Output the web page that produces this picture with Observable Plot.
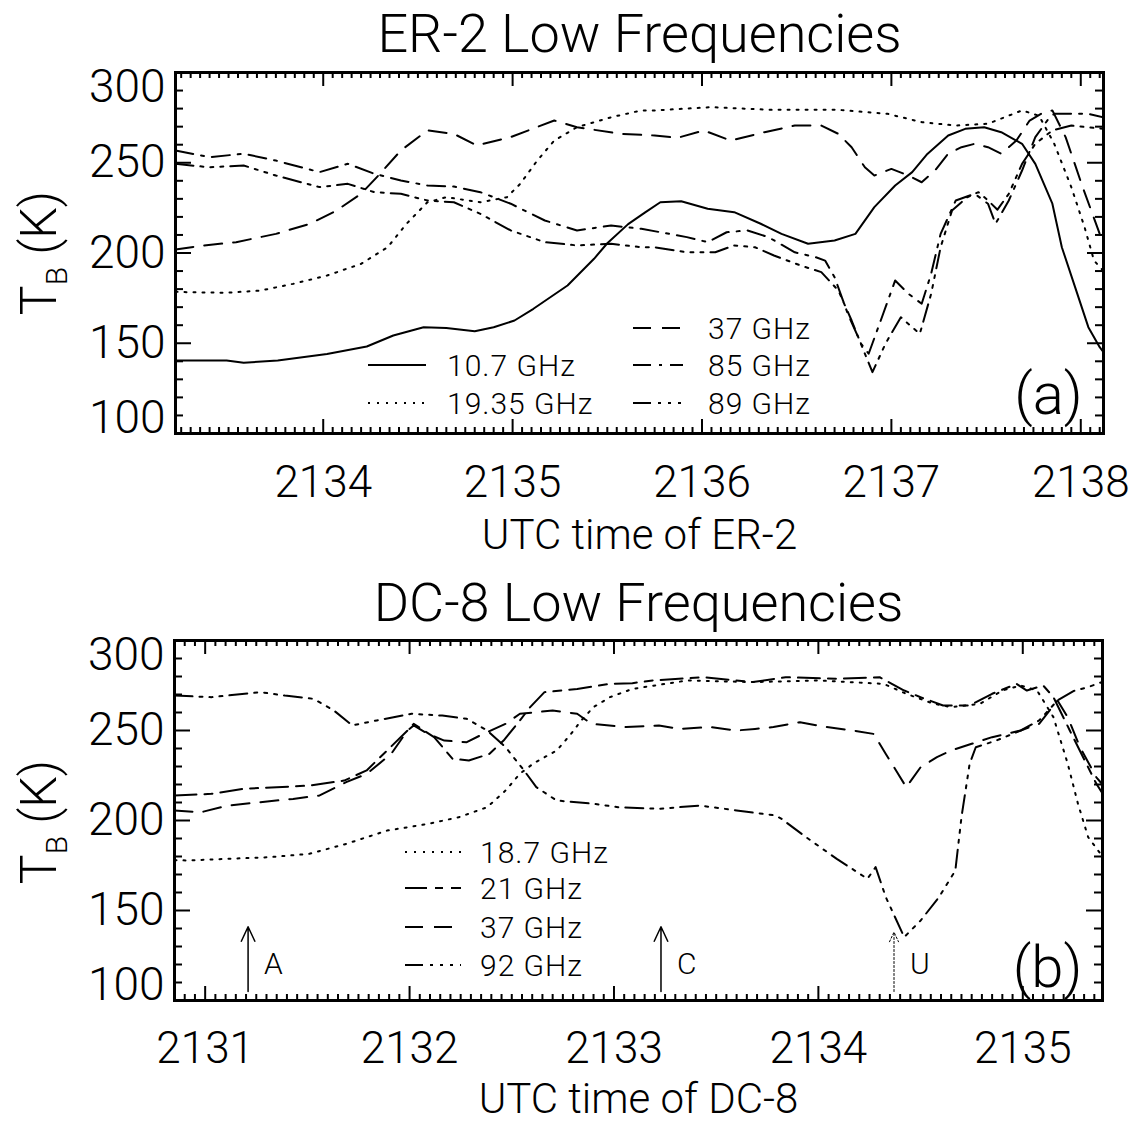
<!DOCTYPE html>
<html><head><meta charset="utf-8">
<script src="https://cdn.jsdelivr.net/npm/d3@7"></script>
<script src="https://cdn.jsdelivr.net/npm/@observablehq/plot@0.6"></script>
<style>
body{margin:0;background:#fff;}
#chart svg{display:block;}
</style></head><body><div id="chart"></div>
<script>
// ---------- DATA ----------
// Panel (a): ER-2, [UTC time, TB (K)]
const er2_10_7 = [[2133.22,140.4],[2133.49,140.4],[2133.58,139.2],[2133.76,140.4],[2134.02,144.1],[2134.23,148.2],[2134.37,154.3],[2134.53,158.9],[2134.65,158.5],[2134.80,156.7],[2134.90,158.9],[2135.01,162.6],[2135.11,169.1],[2135.29,182.0],[2135.43,196.8],[2135.50,205.4],[2135.61,216],[2135.70,222.5],[2135.78,228.1],[2135.89,228.7],[2136.03,224.5],[2136.17,222.6],[2136.31,216.2],[2136.42,210.6],[2136.56,205.1],[2136.70,206.9],[2136.81,210.6],[2136.91,225.4],[2137.02,237.4],[2137.11,244.8],[2137.19,254.9],[2137.30,265.1],[2137.39,268.8],[2137.49,269.7],[2137.58,266.9],[2137.69,260.5],[2137.76,249.4],[2137.85,227.3],[2137.90,203.2],[2137.97,181.1],[2138.04,158.9],[2138.10,147.8],[2138.12,145]];
const er2_19_35 = [[2133.22,178.5],[2133.28,178.3],[2133.49,178],[2133.67,179.2],[2133.84,182.9],[2134.02,187.5],[2134.20,194],[2134.34,203.2],[2134.44,216.2],[2134.55,228.1],[2134.65,230.9],[2134.83,228.1],[2134.97,230.9],[2135.04,238.3],[2135.13,251.2],[2135.22,262.3],[2135.34,269.7],[2135.52,275.2],[2135.68,279],[2135.75,279],[2136.05,280.8],[2136.37,279.3],[2136.72,279.3],[2136.98,277.1],[2137.16,272.5],[2137.34,270.6],[2137.51,271.6],[2137.69,279],[2137.78,276],[2137.86,260.5],[2137.95,236.5],[2138.02,214.3],[2138.07,195.8],[2138.12,190]];
const er2_37 = [[2133.22,202],[2133.37,204.2],[2133.54,206],[2133.75,210.6],[2133.93,216.2],[2134.07,223.5],[2134.20,232.8],[2134.30,243.9],[2134.41,256.8],[2134.55,267.9],[2134.69,266],[2134.81,259.6],[2134.99,264.2],[2135.22,273.4],[2135.34,269.7],[2135.57,266],[2135.75,265.1],[2135.87,263.8],[2136.01,267.9],[2136.15,262.3],[2136.33,266.9],[2136.49,270.6],[2136.63,270.6],[2136.72,266],[2136.79,258.6],[2136.86,247.5],[2136.91,242.9],[2137.0,246.6],[2137.09,242.9],[2137.16,239.2],[2137.23,245.7],[2137.30,255],[2137.37,258.6],[2137.44,260.5],[2137.51,258.6],[2137.58,255],[2137.66,262.3],[2137.73,273.4],[2137.79,277.1],[2137.85,279],[2137.92,264.2],[2138.01,236.5],[2138.10,210.6],[2138.12,206]];
const er2_85 = [[2133.22,256.8],[2133.40,253.1],[2133.58,255],[2133.75,251.2],[2133.98,244.8],[2134.13,249.4],[2134.27,243.9],[2134.41,240.2],[2134.55,237.4],[2134.69,236.8],[2134.83,233.7],[2134.99,227.3],[2135.17,218],[2135.34,212.5],[2135.52,215.2],[2135.68,213.4],[2135.78,211.5],[2135.92,208.8],[2136.03,206],[2136.13,211.5],[2136.24,212.5],[2136.35,208.8],[2136.49,200.4],[2136.60,197.7],[2136.65,195.8],[2136.70,186.6],[2136.77,166.3],[2136.84,149.7],[2136.88,144.2],[2136.95,164.4],[2137.02,184.8],[2137.09,177.4],[2137.16,171.9],[2137.21,188.5],[2137.26,210.6],[2137.34,229.1],[2137.44,232.8],[2137.51,227.3],[2137.55,216.2],[2137.62,229.1],[2137.69,245.7],[2137.76,264.2],[2137.83,274.4],[2137.86,277.1],[2138.04,277.1],[2138.12,275.2]];
const er2_89 = [[2133.22,249.4],[2133.40,247.5],[2133.58,248.5],[2133.75,242.9],[2133.98,236.5],[2134.13,238.3],[2134.27,233.7],[2134.41,232.8],[2134.55,229.1],[2134.69,228.1],[2134.83,221.7],[2134.99,212.5],[2135.17,206],[2135.34,204.2],[2135.52,205.1],[2135.68,203.2],[2135.75,203.2],[2135.92,200.4],[2136.07,200.4],[2136.17,204.2],[2136.28,203.2],[2136.38,198.6],[2136.52,193.1],[2136.63,189.4],[2136.72,179.2],[2136.79,162.6],[2136.86,144.2],[2136.90,134],[2136.97,150],[2137.05,164.4],[2137.15,155.2],[2137.21,177.4],[2137.26,203.2],[2137.32,223.5],[2137.40,230.9],[2137.46,233.7],[2137.51,229.1],[2137.56,224],[2137.62,232.8],[2137.69,249.4],[2137.76,260.5],[2137.85,267.9],[2137.95,270.6],[2138.12,268.8]];

// Panel (b): DC-8, [UTC time, TB (K)]
const dc8_18_7 = [[2130.85,178],[2130.91,177.8],[2131.11,178.7],[2131.31,179.6],[2131.51,181.5],[2131.69,187],[2131.89,194.4],[2132.09,198.1],[2132.24,201.8],[2132.38,207.4],[2132.47,216.7],[2132.54,226],[2132.61,232],[2132.72,238.9],[2132.79,248.1],[2132.84,255.6],[2132.90,263],[2132.98,268.5],[2133.09,273.1],[2133.36,277.8],[2133.68,276.9],[2134.00,277.8],[2134.32,275.9],[2134.43,270.4],[2134.56,265],[2134.65,263],[2134.79,264.8],[2134.90,272.2],[2134.99,275],[2135.07,272.2],[2135.15,257.4],[2135.22,231.5],[2135.27,209.3],[2135.32,190.7],[2135.39,180]];
const dc8_21 = [[2130.85,213.9],[2131.03,214.8],[2131.19,217.6],[2131.35,218.5],[2131.51,219.4],[2131.68,222.2],[2131.79,227.8],[2131.89,238.9],[2131.99,250],[2132.02,253.7],[2132.12,246.3],[2132.21,234.3],[2132.29,233.3],[2132.39,237],[2132.46,244.4],[2132.54,255.6],[2132.59,263],[2132.66,271.3],[2132.82,273.1],[2132.98,275.9],[2133.09,276.3],[2133.19,277.8],[2133.44,279.6],[2133.68,276.9],[2133.84,279.6],[2134.09,278.7],[2134.30,279.6],[2134.42,272.2],[2134.50,268.5],[2134.61,263.9],[2134.74,263.9],[2134.85,270.4],[2134.97,275.9],[2135.02,272.2],[2135.10,275],[2135.15,268.5],[2135.23,250],[2135.36,220.4],[2135.39,215]];
const dc8_37 = [[2130.85,205.6],[2130.98,204.6],[2131.11,208.3],[2131.27,210.2],[2131.43,212],[2131.56,213.9],[2131.69,221.3],[2131.79,225.9],[2131.91,237],[2131.99,250],[2132.02,252.8],[2132.09,248.1],[2132.17,244.4],[2132.28,243.5],[2132.36,248.1],[2132.47,253.7],[2132.54,259.3],[2132.70,261.1],[2132.82,259.3],[2132.89,253.7],[2133.06,251.9],[2133.22,252.8],[2133.32,250.9],[2133.47,251.9],[2133.60,250],[2133.69,250.9],[2133.78,251.9],[2133.91,254.6],[2134.04,251.9],[2134.17,250],[2134.27,248.1],[2134.33,237],[2134.38,227.8],[2134.43,218.5],[2134.50,229.6],[2134.58,235.2],[2134.65,238.9],[2134.75,242.6],[2134.85,246.3],[2134.99,250],[2135.08,253.7],[2135.17,266.7],[2135.22,257.4],[2135.28,240.7],[2135.36,224],[2135.39,220]];
const dc8_92 = [[2130.85,269.4],[2131.03,268.5],[2131.27,271.3],[2131.39,269.4],[2131.53,267.6],[2131.63,261.1],[2131.72,252.8],[2131.84,255.6],[2132.01,259.3],[2132.16,258.3],[2132.28,256.5],[2132.38,250],[2132.47,240.7],[2132.56,227.8],[2132.62,218.5],[2132.72,211.1],[2132.90,209.3],[2133.02,207.4],[2133.22,206.5],[2133.42,208.3],[2133.60,205.6],[2133.79,202.8],[2133.82,200.9],[2133.94,190.7],[2134.09,178.7],[2134.24,167.6],[2134.28,174.1],[2134.33,157.4],[2134.42,135.2],[2134.50,144.4],[2134.59,157.4],[2134.67,172.2],[2134.70,201.8],[2134.74,231.5],[2134.77,240.7],[2134.87,244.4],[2134.99,250],[2135.08,255.6],[2135.17,266.7],[2135.25,272],[2135.32,274.1],[2135.39,277]];

// Event arrows in panel (b)
const dc8ArrowTime  = [2131.21, 2133.23, 2134.37];
const dc8ArrowLabel = ["A", "C", "U"];
const dc8ArrowBase  = [105, 105, 105];
const dc8ArrowTip   = [141, 141, 138];

// Axis ticks
const er2XTicks = [2134, 2135, 2136, 2137, 2138];
const dc8XTicks = [2131, 2132, 2133, 2134, 2135];
const yTicks = [100, 150, 200, 250, 300];

// Series names / legends
const er2Names = ["10.7 GHz", "19.35 GHz", "37 GHz", "85 GHz", "89 GHz"];
const dc8Names = ["18.7 GHz", "21 GHz", "37 GHz", "92 GHz"];

// ---------- STYLE ----------
const FONT = "Roboto, 'Liberation Sans', Arial, sans-serif";
const FW = 300;
const DASH = {
  solid: null,
  dot: "2,7",
  dash: "18,11",
  dashdot: "18,8,3,8",
  dash3dot: "18,7,3,7,3,7,3,7",
  longshort: "22,8,8,8"
};

function panel(cfg) {
  const W = 1135;
  const fw = W - cfg.ml - cfg.mr, fh = cfg.h - cfg.mt - cfg.mb;
  const [x0, x1] = cfg.xDomain;
  const minorX = d3.range(Math.ceil(x0 * 20), Math.floor(x1 * 20) + 1).map(k => k / 20).filter(v => Math.abs(v - Math.round(v)) > 1e-6);
  const minorY = d3.range(100, 301, 10).filter(v => v % 50 !== 0);
  const rows = cfg.series.flatMap((s, i) => s.data.map(([t, v]) => ({t, v, s: i})));
  const T = {fontWeight: FW, lineAnchor: "middle"};
  const marks = [
    Plot.frame({stroke: "black", strokeWidth: 3}),
    Plot.tickX(cfg.xTicks, {x: d => d, insetTop: fh - 14, strokeWidth: 2}),
    Plot.tickX(cfg.xTicks, {x: d => d, insetBottom: fh - 14, strokeWidth: 2}),
    Plot.tickX(minorX, {x: d => d, insetTop: fh - 6, strokeWidth: 2}),
    Plot.tickX(minorX, {x: d => d, insetBottom: fh - 6, strokeWidth: 2}),
    Plot.tickY(yTicks, {y: d => d, insetRight: fw - 16, strokeWidth: 2}),
    Plot.tickY(yTicks, {y: d => d, insetLeft: fw - 16, strokeWidth: 2}),
    Plot.tickY(minorY, {y: d => d, insetRight: fw - 8, strokeWidth: 2}),
    Plot.tickY(minorY, {y: d => d, insetLeft: fw - 8, strokeWidth: 2}),
    ...cfg.series.map((s, i) => Plot.line(rows.filter(r => r.s === i), {
      x: "t", y: "v", stroke: "black", strokeWidth: 2, strokeDasharray: s.dash, clip: true, curve: "linear"
    })),
    Plot.text(cfg.xTicks, {...T, x: d => d, text: d => String(d), frameAnchor: "bottom", dy: cfg.tickDy, fontSize: 44}),
    // y tick labels: the end labels sit inside the axis span, as in the original
    Plot.text(yTicks.filter(d => d === 300), {...T, y: d => d, text: d => String(d), frameAnchor: "left", textAnchor: "end", dx: -10, dy: 15, fontSize: 46}),
    Plot.text(yTicks.filter(d => d !== 300 && d !== 100), {...T, y: d => d, text: d => String(d), frameAnchor: "left", textAnchor: "end", dx: -10, fontSize: 46}),
    Plot.text(yTicks.filter(d => d === 100), {...T, y: d => d, text: d => String(d), frameAnchor: "left", textAnchor: "end", dx: -10, dy: -15, fontSize: 46}),
    Plot.text([cfg.title], {...T, text: d => d, frameAnchor: "top", dy: cfg.titleDy, fontSize: 54, letterSpacing: 2.5}),
    Plot.text([cfg.xLabel], {...T, text: d => d, frameAnchor: "bottom", dy: cfg.labelDy, fontSize: 42, letterSpacing: 5}),
    Plot.text([cfg.panelLabel], {...T, text: d => d, frameAnchor: "bottom-right", textAnchor: "middle", dx: -55, dy: cfg.panelDy, fontSize: 58}),
    ...(cfg.extra || [])
  ];
  const svg = Plot.plot({
    width: W, height: cfg.h,
    marginTop: cfg.mt, marginBottom: cfg.mb, marginLeft: cfg.ml, marginRight: cfg.mr,
    x: {domain: cfg.xDomain, axis: null},
    y: {domain: [100, 300], axis: null},
    style: {fontFamily: FONT, background: "white", color: "black"},
    marks
  });
  const sel = d3.select(svg);
  // in-frame legend (layout only)
  cfg.legend.forEach(L => {
    sel.append("line").attr("x1", L.x).attr("x2", L.x + L.len).attr("y1", L.y).attr("y2", L.y)
      .attr("stroke", "black").attr("stroke-width", 2).attr("stroke-dasharray", L.dash || null);
    sel.append("text").attr("x", L.tx).attr("y", L.y).attr("dy", "0.36em").attr("text-anchor", "start")
      .attr("font-family", FONT).attr("font-weight", FW).attr("font-size", 30).attr("letter-spacing", 1).attr("fill", "black").text(L.label);
  });
  // y-axis title T_B (K)
  const yt = sel.append("text").attr("transform", `translate(56,${cfg.yTitleY}) rotate(-90)`)
    .attr("text-anchor", "middle").attr("font-family", FONT).attr("font-weight", FW).attr("font-size", 50).attr("fill", "black");
  yt.append("tspan").text("T");
  yt.append("tspan").attr("font-size", 30).attr("dy", 11).text("B");
  yt.append("tspan").attr("dy", -11).text(" (K)");
  return svg;
}

const er2Series = [
  {data: er2_10_7, dash: DASH.solid},
  {data: er2_19_35, dash: DASH.dot},
  {data: er2_37, dash: DASH.dash},
  {data: er2_85, dash: DASH.dashdot},
  {data: er2_89, dash: DASH.dash3dot}
];
const dc8Series = [
  {data: dc8_18_7, dash: DASH.dot},
  {data: dc8_21, dash: DASH.longshort},
  {data: dc8_37, dash: DASH.dash},
  {data: dc8_92, dash: DASH.dash3dot}
];

const arrowIdx = d3.range(dc8ArrowTime.length);
const arrowRows = arrowIdx.map(i => ({t: dc8ArrowTime[i], b: dc8ArrowBase[i], tip: dc8ArrowTip[i], label: dc8ArrowLabel[i]}));

const panelA = panel({
  h: 570, mt: 72, mb: 137, ml: 175, mr: 32,
  xDomain: [2133.22, 2138.12], xTicks: er2XTicks,
  series: er2Series,
  title: "ER-2 Low Frequencies", titleDy: -38,
  xLabel: "UTC time of ER-2", labelDy: 102, tickDy: 49,
  panelLabel: "(a)", panelDy: -38, yTitleY: 253,
  legend: [
    {x: 368, len: 58, y: 365, tx: 447, dash: DASH.solid, label: er2Names[0]},
    {x: 368, len: 58, y: 403, tx: 447, dash: DASH.dot, label: er2Names[1]},
    {x: 633, len: 50, y: 328, tx: 708, dash: DASH.dash, label: er2Names[2]},
    {x: 633, len: 50, y: 365, tx: 708, dash: DASH.dashdot, label: er2Names[3]},
    {x: 633, len: 50, y: 403, tx: 708, dash: DASH.dash3dot, label: er2Names[4]}
  ]
});

const panelB = panel({
  h: 555, mt: 70, mb: 125, ml: 174, mr: 33,
  xDomain: [2130.85, 2135.39], xTicks: dc8XTicks,
  series: dc8Series,
  title: "DC-8 Low Frequencies", titleDy: -37,
  xLabel: "UTC time of DC-8", labelDy: 99, tickDy: 48,
  panelLabel: "(b)", panelDy: -32, yTitleY: 252,
  legend: [
    {x: 405, len: 56, y: 282, tx: 480, dash: DASH.dot, label: dc8Names[0]},
    {x: 405, len: 56, y: 318, tx: 480, dash: DASH.longshort, label: dc8Names[1]},
    {x: 405, len: 56, y: 357, tx: 480, dash: DASH.dash, label: dc8Names[2]},
    {x: 405, len: 56, y: 395, tx: 480, dash: DASH.dash3dot, label: dc8Names[3]}
  ],
  extra: [
    Plot.arrow(arrowRows.filter(d => d.label !== "U"), {x1: "t", x2: "t", y1: "b", y2: "tip", stroke: "black", strokeWidth: 1.5, headLength: 16, headAngle: 50}),
    Plot.arrow(arrowRows.filter(d => d.label === "U"), {x1: "t", x2: "t", y1: "b", y2: "tip", stroke: "black", strokeWidth: 1, strokeDasharray: "2,2", headLength: 16, headAngle: 50}),
    Plot.text(arrowRows, {x: "t", y: 120, text: "label", dx: 16, textAnchor: "start", fontSize: 30, fontWeight: FW})
  ]
});

document.getElementById("chart").append(panelA, panelB);
</script>
</body></html>
